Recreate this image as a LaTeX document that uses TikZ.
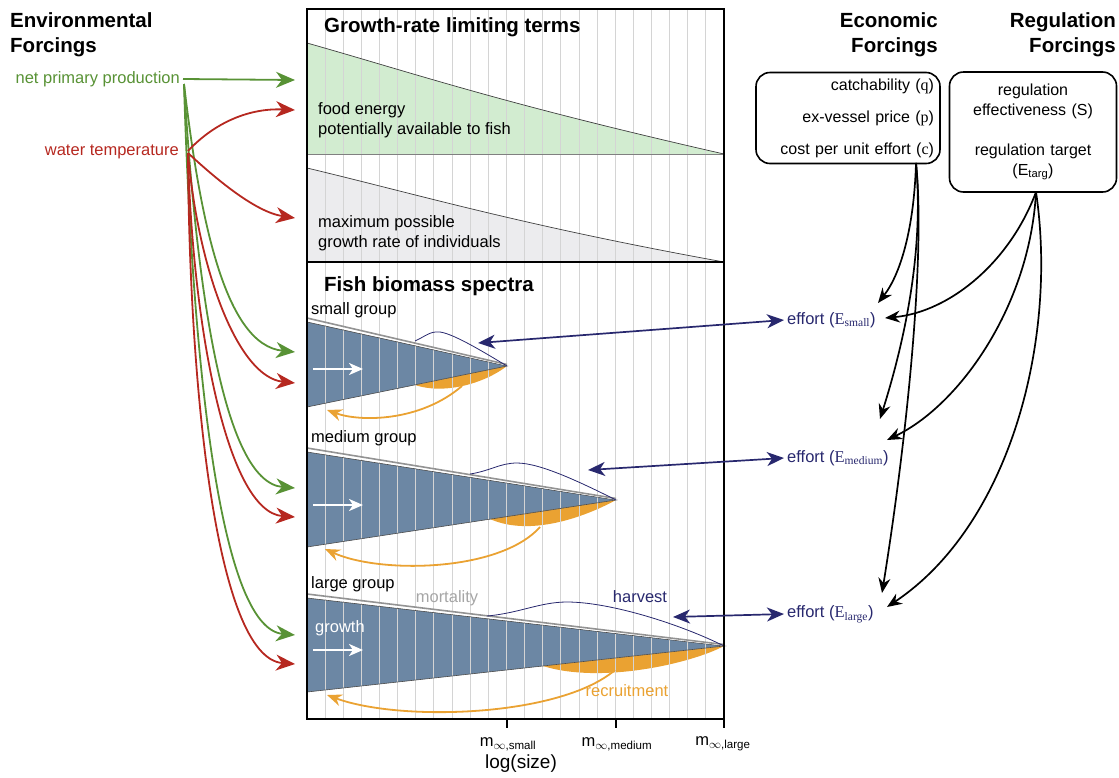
\documentclass[tikz,border=0pt]{standalone}
\usepackage{fontspec}
\setmainfont{Liberation Sans}
\newfontfamily\serifE{Liberation Serif}
\usetikzlibrary{arrows.meta,positioning}

\definecolor{envgreen}{RGB}{88,146,53}
\definecolor{envred}{RGB}{182,40,32}
\definecolor{effnavy}{RGB}{40,40,110}
\definecolor{recorange}{RGB}{234,162,50}
\definecolor{fishblue}{RGB}{108,135,164}
\definecolor{foodgreen}{RGB}{210,236,208}
\definecolor{growgray}{RGB}{236,236,238}
\definecolor{gridgray}{RGB}{212,212,212}

\newcommand{\effE}[1]{{\serifE E\textsubscript{#1}}}

\tikzset{
  body/.style={font=\fontsize{16.5}{20}\selectfont, inner sep=0pt},
  head/.style={font=\fontsize{20.5}{25}\selectfont\bfseries, inner sep=0pt},
  envarrow/.style={-{Stealth[length=19pt,width=16pt,inset=6pt]}, line width=1.8pt},
  blackarrow/.style={-{Stealth[length=15pt,width=12pt,inset=5pt]}, line width=1.7pt},
  effarrow/.style={{Stealth[length=17pt,width=14pt,inset=5pt]}-{Stealth[length=17pt,width=14pt,inset=5pt]}, line width=1.7pt, effnavy},
  recarrow/.style={-{Stealth[length=15pt,width=12pt,inset=5pt]}, line width=1.8pt, recorange},
  growarrow/.style={-{Stealth[length=14pt,width=12pt,inset=4pt]}, line width=2.2pt, white},
  forcebox/.style={draw, line width=1.6pt, rounded corners=14pt, inner sep=0pt},
}

\begin{document}
\begin{tikzpicture}[x=1pt,y=-1pt]
\useasboundingbox (0,0) rectangle (1119,777);

% growth-rate limiting terms
\fill[foodgreen] (307,43) .. controls (420,75) and (500,103) .. (724,154) -- (307,154) -- cycle;
\fill[growgray] (307,168) .. controls (420,195) and (520,225) .. (724,262) -- (307,262) -- cycle;

% biomass spectra
\fill[fishblue] (307,322) -- (507,366) -- (307,407) -- cycle;
\fill[fishblue] (307,452) -- (616,500) -- (307,547) -- cycle;
\fill[fishblue] (307,598) -- (724,646) -- (307,692) -- cycle;

% recruitment
\fill[recorange] (415,385) -- (507,366) .. controls (485,383) and (445,395) .. (415,385) -- cycle;
\fill[recorange] (490,519) -- (616,500) .. controls (585,517) and (530,537) .. (490,519) -- cycle;
\fill[recorange] (543,666) -- (724,646) .. controls (690,664) and (600,684) .. (543,666) -- cycle;

\foreach \k in {1,...,22}
  \draw[gridgray, line width=0.9pt] ({307+18.13*\k},9) -- ({307+18.13*\k},719);

\draw[black!75, line width=0.7pt] (307,43) .. controls (420,75) and (500,103) .. (724,154);
\draw[gray, line width=1pt] (307,154) -- (724,154);
\draw[black!75, line width=0.7pt] (307,168) .. controls (420,195) and (520,225) .. (724,262);

% edges and mortality
\draw[black!70, line width=0.6pt] (307,322) -- (507,366) -- (307,407);
\draw[black!70, line width=0.6pt] (307,452) -- (616,500) -- (307,547);
\draw[black!70, line width=0.6pt] (307,598) -- (724,646) -- (307,692);
\draw[white, line width=1.2pt] (307,320) -- (507,365);
\draw[white, line width=1.2pt] (307,450) -- (616,499);
\draw[white, line width=1.2pt] (307,596) -- (724,645);
\draw[gray!85, line width=1.6pt] (307,318) -- (507,364.5);
\draw[gray!85, line width=1.6pt] (307,448) -- (616,498.5);
\draw[gray!85, line width=1.6pt] (307,594) -- (724,644.5);

% harvest
\draw[effnavy, line width=0.8pt] (415,341) .. controls (426,336) and (430,331) .. (440,332) .. controls (455,334) and (490,356) .. (507,366);
\draw[effnavy, line width=0.8pt] (470,474) .. controls (490,471) and (500,463) .. (517,463) .. controls (540,463) and (580,482) .. (616,500);
\draw[effnavy, line width=0.8pt] (487,616) .. controls (520,613) and (540,602) .. (567,602) .. controls (610,602) and (680,624) .. (724,646);

\draw[growarrow] (313,369) -- (363,369);
\draw[growarrow] (313,505) -- (363,505);
\draw[growarrow] (313,650) -- (363,650);

\draw[recarrow] (462,386) .. controls (420,422) and (360,422) .. (327,410);
\draw[recarrow] (540,527) .. controls (500,572) and (380,574) .. (325,549);
\draw[recarrow] (615,670) .. controls (560,717) and (400,722) .. (327,695);

% frame
\draw[line width=2.5pt] (307,9) rectangle (724,719);
\draw[line width=2.5pt] (307,262) -- (724,262);
\draw[line width=1.5pt] (507,719) -- (507,728);
\draw[line width=1.5pt] (616,719) -- (616,728);
\draw[line width=1.5pt] (724,719) -- (724,728);

\node[head, anchor=west] (growtitle) at (324,27) {Growth-rate limiting terms};
\node[head, anchor=west] (fishtitle) at (324,286) {Fish biomass spectra};
\node[body, anchor=west, align=left] (food) at (318,120) {food energy\\potentially available to fish};
\node[body, anchor=west, align=left] (maxgrow) at (318,233) {maximum possible\\growth rate of individuals};
\node[body, anchor=west] (smallgrp) at (311,310) {small group};
\node[body, anchor=west] (mediumgrp) at (311,438) {medium group};
\node[body, anchor=west] (largegrp) at (311,584) {large group};
\node[body, gray!70] (mortlabel) at (447,598) {mortality};
\node[body, effnavy] (harvlabel) at (640,597) {harvest};
\node[body, white] (growlabel) at (340,628) {growth};
\node[body, recorange] (reclabel) at (627,691) {recruitment};

\node[body] (msmall) at (508,744) {m\textsubscript{$\infty$,small}};
\node[body] (mmedium) at (617,744) {m\textsubscript{$\infty$,medium}};
\node[body] (mlarge) at (723,744) {m\textsubscript{$\infty$,large}};
\node[body, font=\fontsize{19}{22}\selectfont] (logsize) at (521,764) {log(size)};

% environmental forcings
\node[head, anchor=west, align=left] (envhead) at (10,35) {Environmental\\Forcings};
\node[body, anchor=east, envgreen] (npp) at (180,79) {net primary production};
\node[body, anchor=east, envred] (wtemp) at (179,152) {water temperature};

\coordinate (npp1) at (295,80);
\coordinate (npp2) at (295,352);
\coordinate (npp3) at (295,488);
\coordinate (npp4) at (295,635);
\coordinate (wt1) at (295,110);
\coordinate (wt2) at (295,218);
\coordinate (wt3) at (295,383);
\coordinate (wt4) at (295,517);
\coordinate (wt5) at (295,664);

\draw[envarrow, envgreen] ([xshift=3pt]npp.east) -- (npp1);
\draw[envarrow, envgreen] (184,84) .. controls (200,220) and (225,345) .. (npp2);
\draw[envarrow, envgreen] (184,84) .. controls (196,280) and (222,482) .. (npp3);
\draw[envarrow, envgreen] (184,84) .. controls (192,350) and (218,628) .. (npp4);
\draw[envarrow, envred] (188,151) .. controls (215,122) and (250,108) .. (wt1);
\draw[envarrow, envred] (188,153) .. controls (215,178) and (255,212) .. (wt2);
\draw[envarrow, envred] (188,153) .. controls (198,270) and (238,377) .. (wt3);
\draw[envarrow, envred] (188,153) .. controls (192,320) and (226,512) .. (wt4);
\draw[envarrow, envred] (188,153) .. controls (189,380) and (215,658) .. (wt5);

% economic and regulation forcings
\node[head, anchor=east, align=right] (ecohead) at (938,35) {Economic\\Forcings};
\node[head, anchor=east, align=right] (reghead) at (1116,35) {Regulation\\Forcings};
\node[forcebox, minimum width=184pt, minimum height=91pt, text width=172pt, align=right,
  font=\fontsize{16}{32}\selectfont] (eco) at (848,118)
  {catchability ({\serifE q})\\ex-vessel price ({\serifE p})\\cost per unit effort ({\serifE c})};
\node[forcebox, minimum width=167pt, minimum height=120pt, text width=160pt, align=center,
  font=\fontsize{16}{20}\selectfont] (reg) at (1033,132)
  {regulation\\effectiveness (S)\\[20pt]regulation target\\(E\textsubscript{targ})};

\node[body, anchor=west, effnavy, inner sep=3pt] (esmall) at (784,320) {effort (\effE{small})};
\node[body, anchor=west, effnavy, inner sep=3pt] (emedium) at (784,458) {effort (\effE{medium})};
\node[body, anchor=west, effnavy, inner sep=3pt] (elarge) at (784,614) {effort (\effE{large})};

\coordinate (hsmall) at (478,343);
\coordinate (hmedium) at (588,470);
\coordinate (hlarge) at (673,617);
\draw[effarrow] (hsmall) -- (esmall.west);
\draw[effarrow] (hmedium) -- (emedium.west);
\draw[effarrow] (hlarge) -- (elarge.west);

\coordinate (ecoout) at (916,163);
\coordinate (regout) at (1036,192);
\coordinate (esin1) at (878,303);
\coordinate (esin2) at (885,318);
\coordinate (emin1) at (880,419);
\coordinate (emin2) at (887,440);
\coordinate (elin1) at (882,593);
\coordinate (elin2) at (887,607);
\draw[blackarrow] (ecoout) .. controls (914,230) and (900,275) .. (esin1);
\draw[blackarrow] (ecoout) .. controls (924,250) and (905,340) .. (emin1);
\draw[blackarrow] (ecoout) .. controls (926,260) and (905,450) .. (elin1);
\draw[blackarrow] (regout) .. controls (1010,262) and (950,312) .. (esin2);
\draw[blackarrow] (regout) .. controls (1030,305) and (960,405) .. (emin2);
\draw[blackarrow] (regout) .. controls (1058,340) and (1010,525) .. (elin2);
\end{tikzpicture}
\end{document}
